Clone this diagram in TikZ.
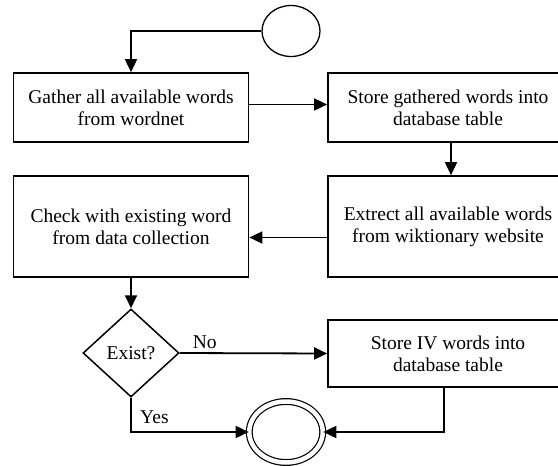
\documentclass[tikz,border=0pt]{standalone}
\usepackage{fontspec}
\setmainfont{Liberation Serif}
\usetikzlibrary{shapes.geometric,arrows.meta}

\begin{document}
\begin{tikzpicture}[x=1pt,y=-1pt,
	every node/.style={font=\fontsize{19.5}{22}\selectfont},
	box/.style={draw, line width=1.7pt, minimum width=235pt, align=center, inner sep=0pt},
	arr/.style={-{Triangle[length=13pt,width=12pt]}, line width=1.8pt}]
\useasboundingbox (0,0) rectangle (558,466);
\clip (0,0) rectangle (558,466);

\node[draw, ellipse, line width=1.3pt, minimum width=58pt, minimum height=51pt, inner sep=0pt] (start) at (291,31) {};

\node[box, minimum height=69pt] (gather) at (131,107.5) {Gather all available words\\from wordnet};
\node[box, minimum height=69pt, minimum width=240pt] (store) at (448,107.5) {Store gathered words into\\database table};
\node[box, minimum height=101pt, minimum width=240pt] (extrect) at (448,226.5) {Extrect all available words\\from wiktionary website};
\node[box, minimum height=101pt] (check) at (131,226.5) {Check with existing word\\from data collection};
\node[draw, diamond, line width=1.5pt, minimum width=96pt, minimum height=88pt, inner sep=0pt] (exist) at (131,353) {Exist?};
\node[box, minimum height=67pt, minimum width=240pt] (storeiv) at (448,353.5) {Store IV words into\\database table};
\node[draw, ellipse, double, double distance=4.5pt, line width=1.2pt, minimum width=73.5pt, minimum height=61pt, inner sep=0pt] (end) at (286,432) {};

\draw[arr] (start.west) -| (gather.north);
\draw[arr] ([yshift=3pt]gather.east) -- ([yshift=3pt]store.west);
\draw[arr] ([xshift=3pt]store.south) -- ([xshift=3pt]extrect.north);
\draw[arr] ([yshift=-11pt]extrect.west) -- ([yshift=-11pt]check.east);
\draw[arr] (check.south) -- (exist.north);
\draw[arr] (exist.east) -- node[pos=0.17, above] {No} (storeiv.west);
\draw[arr] (exist.south) |- node[pos=0.28, right, xshift=5pt] {Yes} (end.west);
\draw[arr] ([xshift=-4pt]storeiv.south) |- (end.east);

\end{tikzpicture}
\end{document}
